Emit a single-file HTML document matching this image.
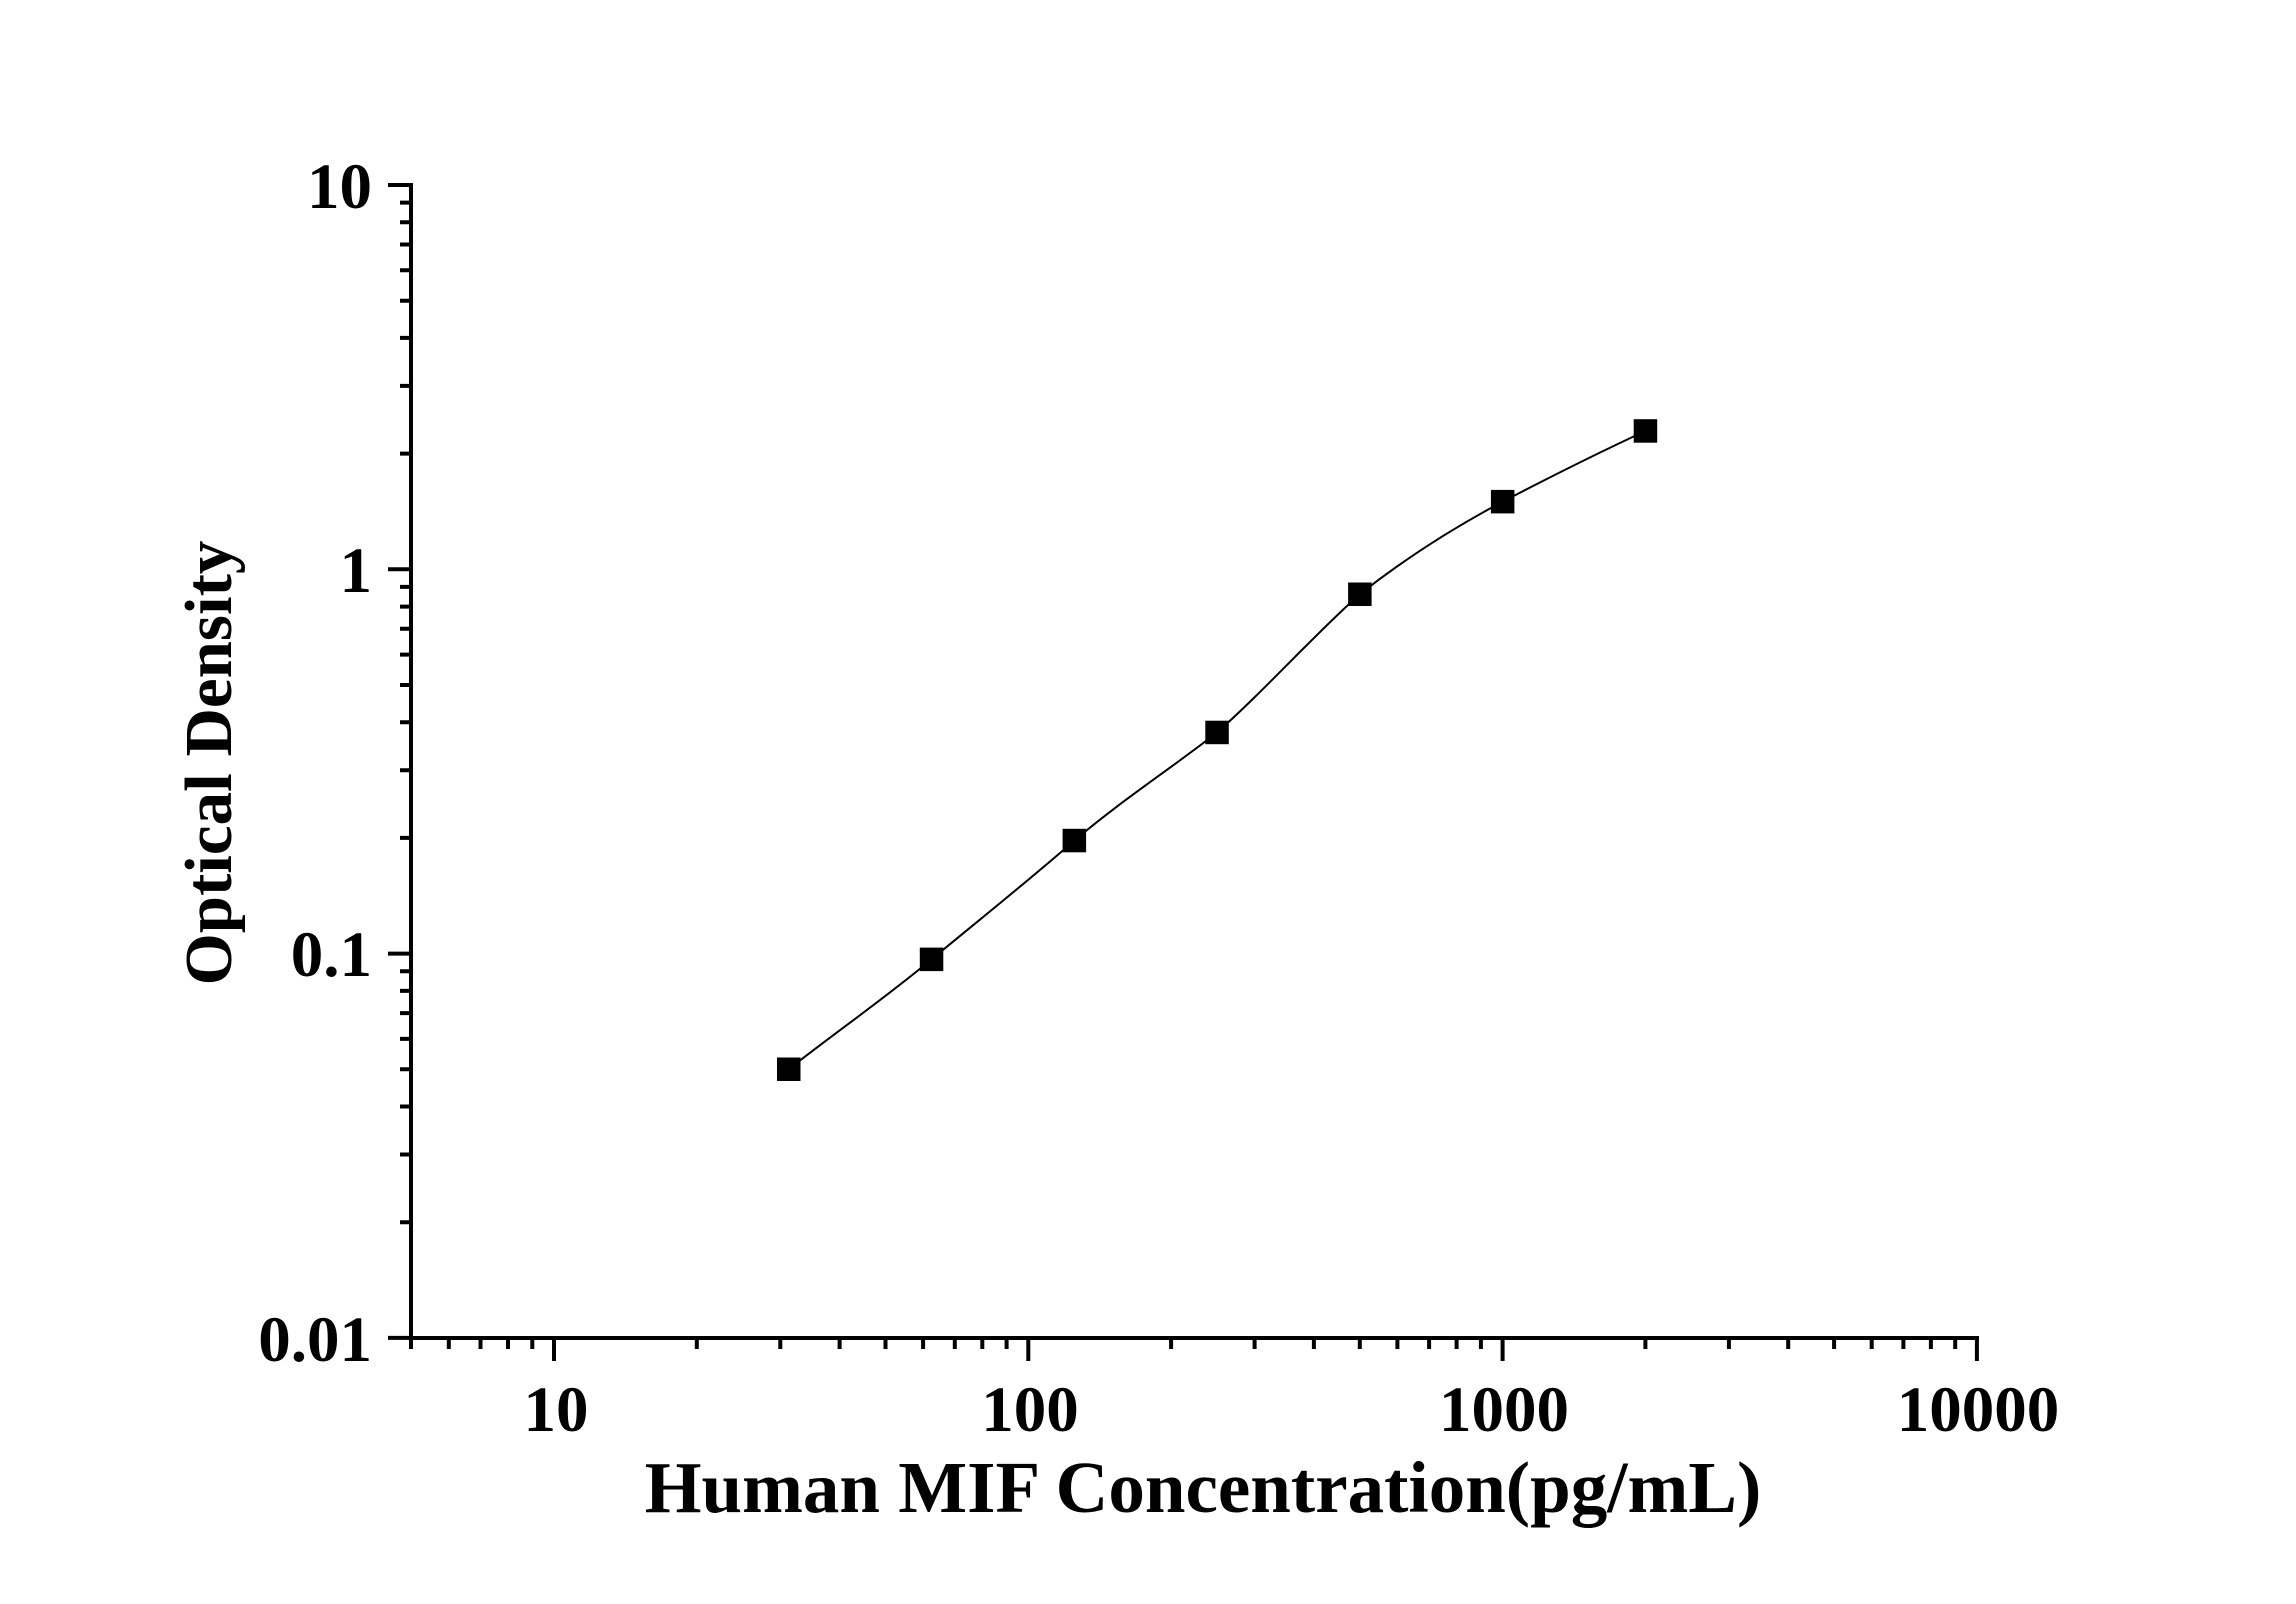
<!DOCTYPE html>
<html><head><meta charset="utf-8"><style>
html,body{margin:0;padding:0;background:#fff;}
svg{display:block;}
text{font-family:"Liberation Serif",serif;font-weight:bold;fill:#000;}
</style></head><body>
<svg width="2296" height="1604" viewBox="0 0 2296 1604" xmlns="http://www.w3.org/2000/svg">
<g stroke="#000" stroke-width="4" fill="none">
<line x1="411" y1="183" x2="411" y2="1340"/>
<line x1="409" y1="1338" x2="1979" y2="1338"/>
<path d="M388 185H411M388 569.3H411M388 953.6H411M388 1337.9H411"/>
<path d="M400 1222.2H411M400 1154.5H411M400 1106.5H411M400 1069.3H411M400 1038.9H411M400 1013.1H411M400 990.9H411M400 971.2H411
M400 837.9H411M400 770.2H411M400 722.2H411M400 685H411M400 654.6H411M400 628.8H411M400 606.6H411M400 586.9H411
M400 453.6H411M400 385.9H411M400 337.9H411M400 300.7H411M400 270.3H411M400 244.5H411M400 222.3H411M400 202.6H411"/>
<path d="M554 1338V1361M1028.3 1338V1361M1502.6 1338V1361M1976.9 1338V1361"/>
<path d="M411 1338V1349M448.8 1338V1349M480.5 1338V1349M508 1338V1349M532.3 1338V1349
M696.8 1338V1349M780.3 1338V1349M839.6 1338V1349M885.5 1338V1349M923.1 1338V1349M954.8 1338V1349M982.3 1338V1349M1006.6 1338V1349
M1171.1 1338V1349M1254.6 1338V1349M1313.9 1338V1349M1359.8 1338V1349M1397.4 1338V1349M1429.1 1338V1349M1456.6 1338V1349M1480.9 1338V1349
M1645.4 1338V1349M1728.9 1338V1349M1788.2 1338V1349M1834.1 1338V1349M1871.7 1338V1349M1903.4 1338V1349M1930.9 1338V1349M1955.2 1338V1349"/>
</g>
<path fill="none" stroke="#000" stroke-width="2" d="M788.7,1069.3 C836,1032 884,999 931.5,959.4 C979,920 1027,882 1074.3,840.6 C1122,800 1169,770 1217,732.5 C1265,690 1312,637 1359.8,594.3 C1407,557 1455,527 1502.6,501.7 C1550,477 1598,453 1645.4,431"/>
<g fill="#000">
<rect x="777" y="1057.5" width="23.5" height="23.5"/>
<rect x="919.8" y="947.6" width="23.5" height="23.5"/>
<rect x="1062.6" y="828.8" width="23.5" height="23.5"/>
<rect x="1205.3" y="720.7" width="23.5" height="23.5"/>
<rect x="1348.1" y="582.5" width="23.5" height="23.5"/>
<rect x="1490.9" y="489.9" width="23.5" height="23.5"/>
<rect x="1633.7" y="419.2" width="23.5" height="23.5"/>
</g>
<g font-size="65" text-anchor="end">
<text x="372" y="208">10</text>
<text x="372" y="592">1</text>
<text x="372" y="976">0.1</text>
<text x="372" y="1361">0.01</text>
</g>
<g font-size="65" text-anchor="middle">
<text x="556" y="1431">10</text>
<text x="1030" y="1431">100</text>
<text x="1504" y="1431">1000</text>
<text x="1978" y="1431">10000</text>
</g>
<text x="1203" y="1512" font-size="73" text-anchor="middle">Human MIF Concentration(pg/mL)</text>
<text transform="translate(231,763) rotate(-90)" font-size="67" text-anchor="middle">Optical Density</text>
</svg>
</body></html>
